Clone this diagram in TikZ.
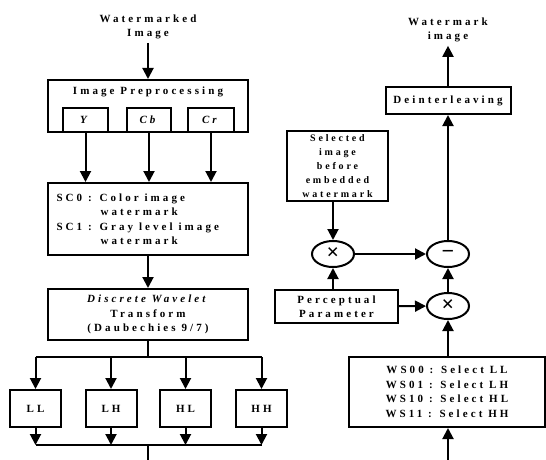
\documentclass[tikz,border=0pt]{standalone}
\usepackage{fontspec}
\setmainfont{Liberation Serif}[LetterSpace=28]
\usetikzlibrary{arrows.meta,shapes.geometric}
\begin{document}
\begin{tikzpicture}[x=1pt,y=-1pt,
    font=\fontsize{11}{14.5}\selectfont\bfseries,
    blk/.style={draw,line width=2pt,inner sep=2pt,align=center},
    opnode/.style={draw,ellipse,line width=2pt,minimum width=42pt,minimum height=26pt,inner sep=0pt,
        font=\fontsize{22}{22}\selectfont\bfseries},
    arr/.style={line width=2pt,-{Triangle[length=11pt,width=11pt]}},
    lin/.style={line width=2pt}]
    \useasboundingbox (0,0) rectangle (546,460);

    % left column: extraction of the subbands
    \node[align=center] (in) at (148,27) {Watermarked\\Image};
    \node[blk,minimum width=200pt,minimum height=52pt] (pre) at (148,106) {};
    \node (pretitle) at (148,92) {Image Preprocessing};
    \node[blk,minimum width=45pt,minimum height=24pt] (Y) at (85.5,120) {\textit{Y}};
    \node[blk,minimum width=44pt,minimum height=24pt] (Cb) at (149,120) {\textit{Cb}};
    \node[blk,minimum width=46pt,minimum height=24pt] (Cr) at (211,120) {\textit{Cr}};
    \node[blk,minimum width=200pt,minimum height=72pt] (sc) at (148,219) {};
    \node[align=left,anchor=west] (sctext) at (53,219)
        {SC0 : Color image\\\hspace*{44pt}watermark\\SC1 : Gray level image\\\hspace*{44pt}watermark};
    \node[blk,minimum width=200pt,minimum height=51pt] (dwt) at (148,314.5)
        {\textit{Discrete Wavelet}\\Transform\\(Daubechies 9/7)};
    \node[blk,minimum width=51pt,minimum height=37pt] (LL) at (35.5,408.5) {LL};
    \node[blk,minimum width=51pt,minimum height=37pt] (LH) at (111,408.5) {LH};
    \node[blk,minimum width=51pt,minimum height=37pt] (HL) at (185.5,408.5) {HL};
    \node[blk,minimum width=51pt,minimum height=37pt] (HH) at (261.5,408.5) {HH};
    \coordinate (split) at (148,357);
    \coordinate (merge) at (148,445);

    \draw[arr] (in) -- (pre);
    \draw[arr] (Y.south) -- (Y.south |- sc.north);
    \draw[arr] (Cb.south) -- (Cb.south |- sc.north);
    \draw[arr] (Cr.south) -- (Cr.south |- sc.north);
    \draw[arr] (sc) -- (dwt);
    \draw[lin] (dwt) -- (split);
    \draw[lin] (LL |- split) -- (HH |- split);
    \draw[lin] (LL |- merge) -- (HH |- merge);
    \foreach \b in {LL,LH,HL,HH} {
        \draw[arr] (\b |- split) -- (\b.north);
        \draw[arr] (\b.south) -- (\b |- merge);
    }

    % right column: watermark recovery
    \node[align=center] (out) at (448,30) {Watermark\\image};
    \node[blk,minimum width=125pt,minimum height=27pt] (dein) at (448,100.5) {Deinterleaving};
    \node[blk,minimum width=101pt,minimum height=70pt,font=\fontsize{10}{14}\selectfont\bfseries] (sel) at (337.5,166)
        {Selected\\image\\before\\embedded\\watermark};
    \node[opnode] (mulA) at (333,254) {×};
    \node[opnode] (minus) at (448,254) {−};
    \node[opnode] (mulB) at (448,306) {×};
    \node[blk,minimum width=123pt,minimum height=33pt] (pp) at (336.5,306.5) {Perceptual\\Parameter};
    \node[blk,minimum width=196pt,minimum height=70pt] (ws) at (447,392)
        {WS00 : Select LL\\WS01 : Select LH\\WS10 : Select HL\\WS11 : Select HH};

    \draw[arr] (dein) -- (out);
    \draw[arr] (minus) -- (dein);
    \draw[arr] (sel.south -| mulA) -- (mulA);
    \draw[arr] (mulA) -- (minus);
    \draw[arr] (pp.north -| mulA) -- (mulA);
    \draw[arr] (pp) -- (mulB);
    \draw[arr] (mulB) -- (minus);
    \draw[arr] (ws.north -| mulB) -- (mulB);
    \draw[arr] (merge) -- ++(0,16) -| (ws.south -| mulB);
\end{tikzpicture}
\end{document}
